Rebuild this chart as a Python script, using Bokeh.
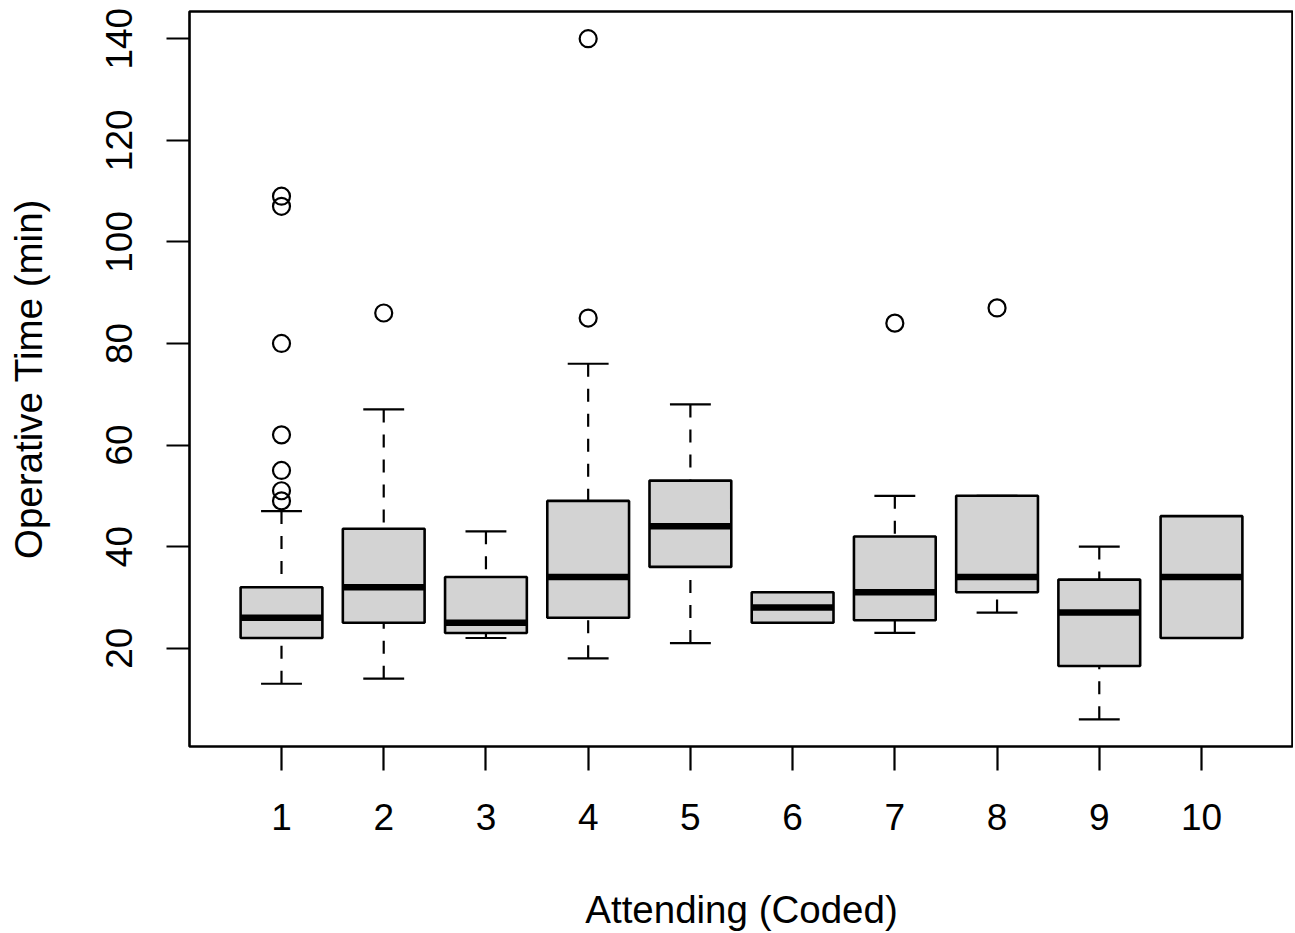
from bokeh.plotting import figure
from bokeh.models import Range1d, FixedTicker
from bokeh.embed import file_html
from bokeh.resources import INLINE

# ---- data ----
attending = [1, 2, 3, 4, 5, 6, 7, 8, 9, 10]
whisker_low = [13, 14, 22, 18, 21, 25, 23, 27, 6, 22]
q1 = [22, 25, 23, 26, 36, 25, 25.5, 31, 16.5, 22]
median = [26, 32, 25, 34, 44, 28, 31, 34, 27, 34]
q3 = [32, 43.5, 34, 49, 53, 31, 42, 50, 33.5, 46]
whisker_high = [47, 67, 43, 76, 68, 31, 50, 50, 40, 46]
outlier_group = [1, 1, 1, 1, 1, 1, 1, 2, 4, 4, 7, 8]
outlier_value = [49, 51, 55, 62, 80, 107, 109, 86, 85, 140, 84, 87]
y_ticks = [20, 40, 60, 80, 100, 120, 140]
x_label = "Attending (Coded)"
y_label = "Operative Time (min)"

BOX_W = 0.8
CAP_W = 0.4
FONT = "Liberation Sans"
FS = "37px"
FS_TITLE = "38.5px"

p = figure(
    frame_width=1104, frame_height=735,
    min_border_left=189, min_border_right=0,
    min_border_top=11, min_border_bottom=179,
    x_range=Range1d(0.1, 10.9), y_range=Range1d(0.64, 145.36),
    output_backend="svg", toolbar_location=None, tools="",
    background_fill_color="white", border_fill_color="white",
)

# whiskers (dashed), drawn from whisker end to box edge
p.segment(x0=attending, y0=whisker_high, x1=attending, y1=q3,
          line_color="black", line_width=2.2, line_dash="13 12")
p.segment(x0=attending, y0=whisker_low, x1=attending, y1=q1,
          line_color="black", line_width=2.2, line_dash="13 12")

# staples
cap_l = [a - CAP_W / 2 for a in attending]
cap_r = [a + CAP_W / 2 for a in attending]
p.segment(x0=cap_l, y0=whisker_high, x1=cap_r, y1=whisker_high,
          line_color="black", line_width=2.2)
p.segment(x0=cap_l, y0=whisker_low, x1=cap_r, y1=whisker_low,
          line_color="black", line_width=2.2)

# boxes
p.vbar(x=attending, width=BOX_W, bottom=q1, top=q3,
       fill_color="#D3D3D3", line_color="black", line_width=2.6)

# medians
box_l = [a - BOX_W / 2 for a in attending]
box_r = [a + BOX_W / 2 for a in attending]
p.segment(x0=box_l, y0=median, x1=box_r, y1=median,
          line_color="black", line_width=6.5, line_cap="butt")

# outliers
p.scatter(x=outlier_group, y=outlier_value, marker="circle", size=17,
          fill_color=None, line_color="black", line_width=2.2)

# axes
p.xgrid.visible = False
p.ygrid.visible = False
p.outline_line_color = "black"
p.outline_line_width = 2.6
p.outline_line_alpha = 1.0

p.xaxis.ticker = FixedTicker(ticks=attending)
p.yaxis.ticker = FixedTicker(ticks=y_ticks)
p.xaxis.axis_label = x_label
p.yaxis.axis_label = y_label
for ax in (p.xaxis, p.yaxis):
    ax.axis_line_color = None
    ax.major_tick_in = 0
    ax.major_tick_line_color = "black"
    ax.major_tick_line_width = 2.2
    ax.minor_tick_line_color = None
    ax.major_label_text_font = FONT
    ax.major_label_text_font_size = FS
    ax.major_label_text_color = "black"
    ax.axis_label_text_font = FONT
    ax.axis_label_text_font_size = FS_TITLE
    ax.axis_label_text_font_style = "normal"
    ax.axis_label_text_color = "black"
p.xaxis.major_tick_out = 24
p.yaxis.major_tick_out = 23
p.xaxis.major_label_standoff = 33
p.yaxis.major_label_standoff = 34
p.yaxis.major_label_orientation = "vertical"
p.xaxis.axis_label_standoff = 55
p.yaxis.axis_label_standoff = 54

open("out.html", "w").write(file_html(p, INLINE))
